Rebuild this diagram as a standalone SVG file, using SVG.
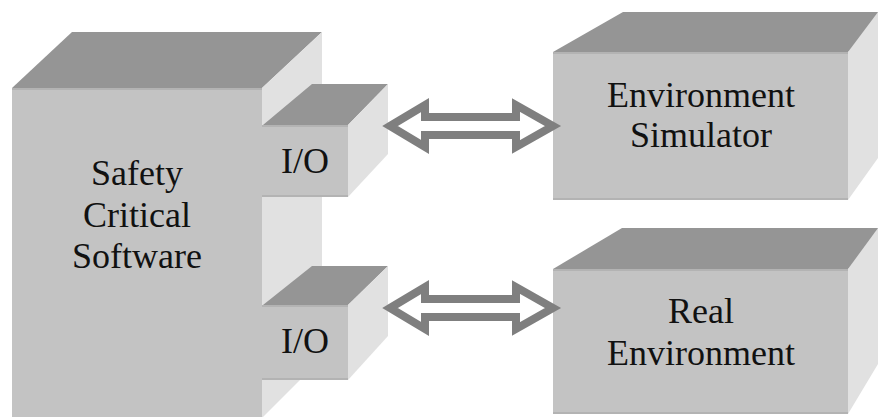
<svg xmlns="http://www.w3.org/2000/svg" width="878" height="417" viewBox="0 0 878 417">
<style>
.top{fill:#959595}
.front{fill:#c3c3c3}
.side{fill:#e1e1e1}
.edge{fill:none;stroke:#b3b3b3;stroke-width:2}
.lbl{font-family:"Liberation Serif","Times New Roman",serif;font-size:36px;fill:#111;text-anchor:middle}
.arrow{fill:#fff;stroke:#7f7f7f;stroke-width:8;stroke-linejoin:miter}
</style>
<rect width="878" height="417" fill="#fff"/>
<g id="safety-software">
<polygon class="top" points="12,88 72,32 322,32 262,88"/>
<polygon class="side" points="262,88 322,32 322,358 262,418"/>
<rect class="front" x="12" y="88" width="250" height="330"/>
<line class="edge" x1="12" y1="89" x2="262" y2="89"/>
<text class="lbl" x="137" y="185">Safety</text>
<text class="lbl" x="137" y="227">Critical</text>
<text class="lbl" x="137" y="268">Software</text>
</g>
<g id="io-upper">
<polygon class="top" points="263,125 312,84 388,84 348,125"/>
<polygon class="side" points="348,125 388,84 388,154 348,197"/>
<rect class="front" x="262" y="125" width="86" height="72"/>
<line class="edge" x1="262" y1="126" x2="348" y2="126"/>
<line class="edge" x1="262" y1="196" x2="348" y2="196"/>
<text class="lbl" x="305" y="173">I/O</text>
</g>
<g id="io-lower">
<polygon class="top" points="263,305 312,266 388,266 348,305"/>
<polygon class="side" points="348,305 388,266 388,336 348,380"/>
<rect class="front" x="262" y="305" width="86" height="75"/>
<line class="edge" x1="262" y1="306" x2="348" y2="306"/>
<line class="edge" x1="262" y1="379" x2="348" y2="379"/>
<text class="lbl" x="305" y="353">I/O</text>
</g>
<g id="environment-simulator">
<polygon class="top" points="553,52 623,12 908,12 848,52"/>
<polygon class="side" points="848,52 878,12 878,158 848,200"/>
<rect class="front" x="553" y="52" width="295" height="148"/>
<line class="edge" x1="553" y1="53" x2="848" y2="53"/>
<line class="edge" x1="553" y1="199" x2="848" y2="199"/>
<text class="lbl" x="701" y="107">Environment</text>
<text class="lbl" x="701" y="147">Simulator</text>
</g>
<g id="real-environment">
<polygon class="top" points="553,269 622,228 908,228 848,269"/>
<polygon class="side" points="848,269 878,228 878,364 848,414"/>
<rect class="front" x="553" y="269" width="295" height="145"/>
<line class="edge" x1="553" y1="270" x2="848" y2="270"/>
<line class="edge" x1="553" y1="413" x2="848" y2="413"/>
<text class="lbl" x="701" y="323">Real</text>
<text class="lbl" x="701" y="365">Environment</text>
</g>
<g id="connectors">
<polygon class="arrow" points="390,126 425,105 425,117 516,117 516,105 553,126 516,147 516,135 425,135 425,147"/>
<polygon class="arrow" points="390,308 425,287 425,299 516,299 516,287 553,308 516,329 516,317 425,317 425,329"/>
</g>
</svg>
